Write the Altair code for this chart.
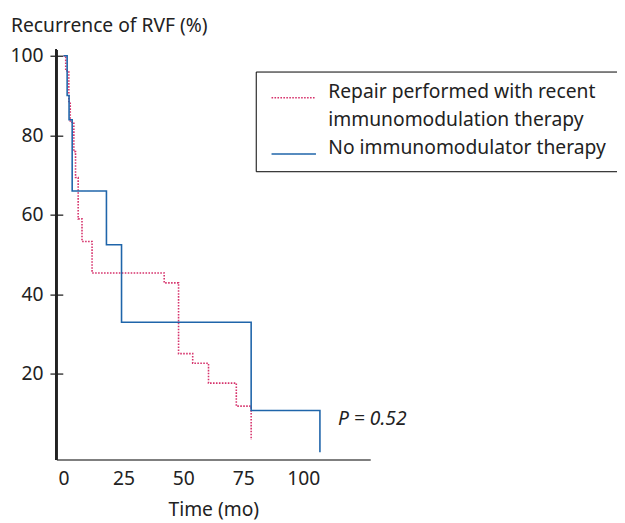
import altair as alt
import pandas as pd

# ---- data ----
series_names = [
    "Repair performed with recent immunomodulation therapy",
    "No immunomodulator therapy",
]
# the first legend label is wrapped over two legend rows
legend_rows = ["Repair performed with recent", "immunomodulation therapy", "No immunomodulator therapy"]

pink_time = [0, 0.9, 2.2, 2.8, 4.3, 5.0, 6.1, 7.7, 11.9, 42.0, 48.0, 53.9, 60.5, 72.1, 78.3]
pink_value = [100, 96.2, 88.5, 83.3, 75.9, 69.4, 59.0, 53.3, 45.4, 42.9, 25.1, 22.7, 17.7, 11.9, 3.4]
blue_time = [0, 1.5, 2.3, 3.6, 17.9, 24.2, 78.3, 107.0]
blue_value = [100, 90.0, 83.9, 66.0, 52.5, 33.0, 10.8, 0.3]

x_ticks = [0, 25, 50, 75, 100]
y_ticks = [20, 40, 60, 80, 100]
p_label = ["P = 0.52"]
p_x = [114.5]
p_y = [8.7]

colors = ["#d6336c", "rgba(0,0,0,0)", "#1f65aa"]
FONT = "Noto Sans"
FS = 19.5

rows = []
for t, v in zip(pink_time, pink_value):
    rows.append({"time": t, "value": v, "group": legend_rows[0], "order": len(rows)})
for t, v in zip(blue_time, blue_value):
    rows.append({"time": t, "value": v, "group": legend_rows[2], "order": len(rows)})
df = pd.DataFrame(rows)
ann = pd.DataFrame({"x": p_x, "y": p_y, "text": p_label})

W, H = 318, 415
xscale = alt.Scale(domain=[-3, 128], nice=False, zero=False)
yscale = alt.Scale(domain=[-1.5, 101.5], nice=False, zero=False)

legend = alt.Legend(
    title=None,
    orient="none",
    legendX=202,
    legendY=22,
    strokeColor="black",
    fillColor="white",
    padding=14,
    symbolType="M-2,0H2",
    symbolSize=506.25,
    symbolStrokeWidth=1.6,
    symbolOffset=12,
    labelFont=FONT,
    labelFontSize=FS,
    labelColor="#222",
    labelLimit=500,
    labelOffset=22.5,
    labelBaseline="alphabetic",
    rowPadding=8.5,
)

lines = alt.Chart(df).mark_line(interpolate="step-after", strokeWidth=1.6).encode(
    x=alt.X(
        "time:Q",
        scale=xscale,
        axis=alt.Axis(
            values=x_ticks,
            title="Time (mo)",
            titleFont=FONT,
            titleFontSize=FS,
            titleFontWeight="normal",
            titleColor="#222",
            titleY=57,
            titleBaseline="alphabetic",
            labelFont=FONT,
            labelFontSize=FS,
            labelColor="#222",
            labelPadding=10,
            ticks=False,
            tickSize=0,
            grid=False,
            domainColor="#555",
            domainWidth=1.5,
        ),
    ),
    y=alt.Y(
        "value:Q",
        scale=yscale,
        axis=alt.Axis(
            values=y_ticks,
            title="Recurrence of RVF (%)",
            titleAngle=0,
            titleAlign="left",
            titleBaseline="alphabetic",
            titleX=-53,
            titleY=-19,
            titleFont=FONT,
            titleFontSize=FS,
            titleFontWeight="normal",
            titleColor="#222",
            labelFont=FONT,
            labelFontSize=FS,
            labelColor="#222",
            labelPadding=7,
            tickSize=13,
            tickColor="#222",
            tickWidth=1.3,
            offset=-6.5,
            domain=False,
            grid=False,
        ),
    ),
    color=alt.Color(
        "group:N",
        scale=alt.Scale(domain=legend_rows, range=colors),
        legend=legend,
    ),
    strokeDash=alt.StrokeDash(
        "group:N",
        scale=alt.Scale(domain=legend_rows, range=[[1.6, 1.4], [1, 0], [1, 0]]),
        legend=legend,
    ),
    order="order:Q",
)

yline = alt.Chart(df).mark_rule(color="#222", strokeWidth=1.5).encode(
    x=alt.value(0), y=alt.value(0), y2=alt.value(H)
)

ptext = alt.Chart(ann).mark_text(
    font=FONT, fontSize=FS, fontStyle="italic", align="left", baseline="middle", color="#222"
).encode(x=alt.X("x:Q", scale=xscale), y=alt.Y("y:Q", scale=yscale), text="text:N")

chart = (
    alt.layer(yline, lines, ptext)
    .properties(
        width=W,
        height=H,
        autosize=alt.AutoSizeParams(type="none"),
        padding={"left": 49, "top": 39, "right": 250, "bottom": 60},
    )
    .configure_view(stroke=None)
)

chart.save("out.html", embed_options={"renderer": "svg", "actions": False})
